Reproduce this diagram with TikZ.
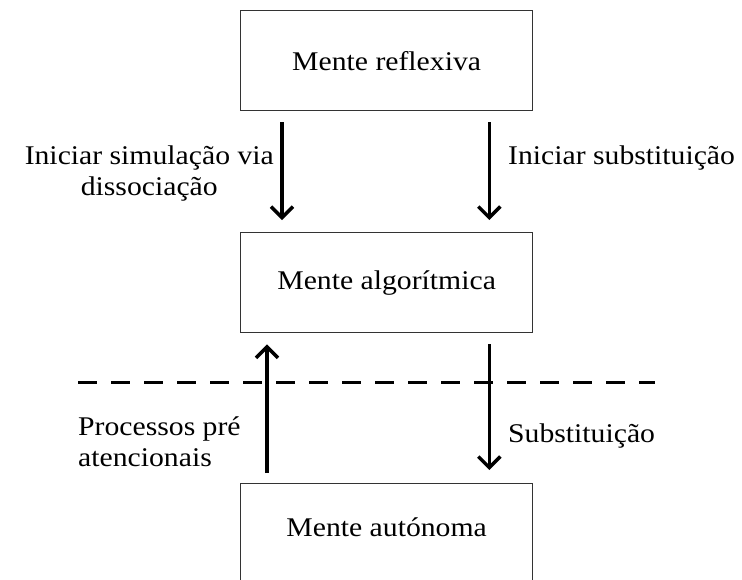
\documentclass[tikz,border=0pt]{standalone}
\usepackage{fontspec}
\setmainfont{Liberation Serif}[FakeStretch=1.1]
\usetikzlibrary{arrows.meta}
\begin{document}
\begin{tikzpicture}[x=1pt,y=-1pt,
  mind/.style={draw=black!80,line width=1.3pt,minimum width=292pt,minimum height=100pt,inner sep=0pt,anchor=north west,font=\fontsize{27}{31}\selectfont},
  lbl/.style={font=\fontsize{27}{31}\selectfont,inner sep=0pt},
  flow/.style={line width=3.5pt,-{Straight Barb[length=11pt,width=22pt,line width=3.5pt]}},
  sep/.style={line width=3pt,dash pattern=on 19pt off 14pt}]
\useasboundingbox (0,0) rectangle (742,579);
\clip (0,0) rectangle (742,579);
\node[mind] (b1) at (240,10) {Mente reflexiva};
\node[mind] (b2) at (240,232) {Mente algorítmica};
\node[mind,minimum height=120pt] (b3) at (240,483) {};
\node[lbl] (t3) at ([yshift=-44pt]b3.north) {Mente autónoma};
\draw[flow] ([shift={(42,11)}]b1.south west) -- ([shift={(42,-12)}]b2.north west);
\draw[flow] ([shift={(-44,11)}]b1.south east) -- ([shift={(-44,-12)}]b2.north east);
\draw[flow] ([shift={(27,-10)}]b3.north west) -- ([shift={(27,11)}]b2.south west);
\draw[flow] ([shift={(-44,11)}]b2.south east) -- ([shift={(-44,-13)}]b3.north east);
\coordinate (dl) at (78,382);
\coordinate (dr) at (655,382);
\draw[sep] (dl) -- (dr);
\node[lbl,align=center,anchor=east] (l1) at (274,174) {Iniciar simulação via\\dissociação};
\node[lbl,anchor=west] (l2) at (508,158) {Iniciar substituição};
\node[lbl,align=left,anchor=west] (l3) at (78,442) {Processos pré\\atencionais};
\node[lbl,anchor=west] (l4) at (508,436) {Substituição};
\end{tikzpicture}
\end{document}
